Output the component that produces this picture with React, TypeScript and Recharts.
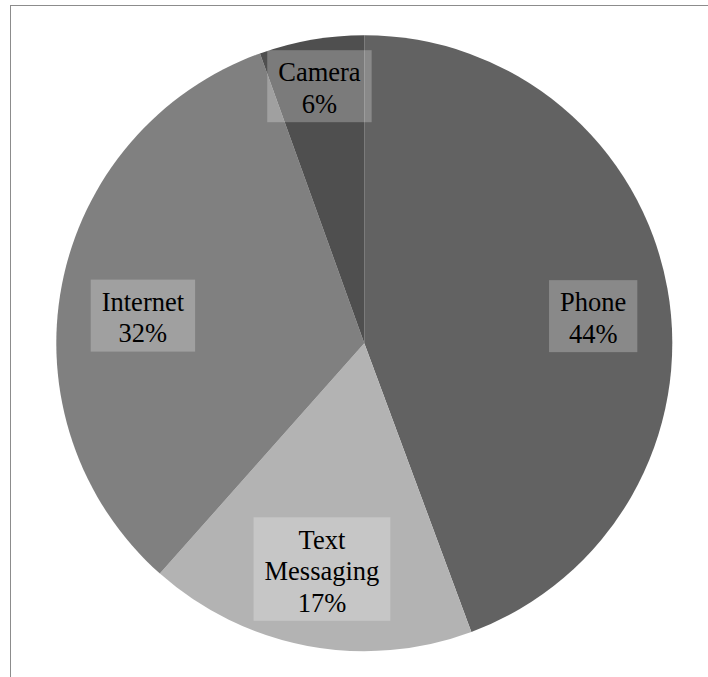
import React from "react";
import { PieChart, Pie, Cell } from "recharts";

// slice shares
const categories = ["Phone", "Text Messaging", "Internet", "Camera"];
const shares = [44.35, 17.2, 32.95, 5.5];
const percentLabels = ["44%", "17%", "32%", "6%"];

const sliceColors = ["#626262", "#b3b3b3", "#808080", "#4f4f4f"];

// where Excel put each label box (fraction of radius, vertical nudge)
const labelLayout: Record<string, { k: number; dy: number }> = {
  Phone: { k: 0.755, dy: 14 },
  "Text Messaging": { k: 0.746, dy: 0 },
  Internet: { k: 0.732, dy: 15 },
  Camera: { k: 0.847, dy: 0 },
};

const FONT = "'Liberation Serif', 'Times New Roman', serif";
const FONT_SIZE = 26.5;
const LINE_H = 31.5;

const data = categories.map((name, i) => ({
  name,
  value: shares[i],
  pct: percentLabels[i],
}));

let ctx: CanvasRenderingContext2D | null = null;
const measure = (s: string) => {
  if (!ctx) {
    ctx = document.createElement("canvas").getContext("2d");
  }
  if (!ctx) return s.length * FONT_SIZE * 0.5;
  ctx.font = `${FONT_SIZE}px ${FONT}`;
  return ctx.measureText(s).width;
};

const RADIAN = Math.PI / 180;

const renderLabel = (props: any) => {
  const { cx, cy, midAngle, outerRadius, name, payload } = props;
  const layout = labelLayout[name] || { k: 0.7, dy: 0 };
  const r = outerRadius * layout.k;
  const x = cx + r * Math.cos(-midAngle * RADIAN);
  const y = cy + r * Math.sin(-midAngle * RADIAN) + layout.dy;
  const lines = [...String(name).split(" "), payload.pct];
  const w = Math.max(...lines.map(measure)) + 22;
  const h = lines.length * LINE_H + 9;
  return (
    <g>
      <rect
        x={x - w / 2}
        y={y - h / 2}
        width={w}
        height={h}
        fill="#ffffff"
        fillOpacity={0.25}
      />
      {lines.map((t, i) => (
        <text
          key={i}
          x={x}
          y={y + (i - (lines.length - 1) / 2) * LINE_H + 11}
          textAnchor="middle"
          fontFamily={FONT}
          fontSize={FONT_SIZE}
          fill="#000000"
        >
          {t}
        </text>
      ))}
    </g>
  );
};

export default function App() {
  return (
    <div
      style={{
        position: "absolute",
        left: 0,
        top: 0,
        width: 708,
        height: 677,
        background: "#ffffff",
        overflow: "hidden",
      }}
    >
      <div
        style={{
          position: "absolute",
          left: 10,
          top: 5,
          width: 720,
          height: 700,
          borderLeft: "1.5px solid #8c8c8c",
          borderTop: "1.5px solid #8c8c8c",
        }}
      />
      <div style={{ position: "absolute", left: 0, top: 0 }}>
        <PieChart
          width={708}
          height={677}
          margin={{ top: 0, right: 0, bottom: 0, left: 0 }}
        >
          <Pie
            data={data}
            dataKey="value"
            nameKey="name"
            cx={364.3}
            cy={343.2}
            outerRadius={308}
            startAngle={90}
            endAngle={-270}
            stroke="none"
            label={renderLabel}
            labelLine={false}
            isAnimationActive={false}
          >
            {data.map((d, i) => (
              <Cell key={d.name} fill={sliceColors[i]} />
            ))}
          </Pie>
        </PieChart>
      </div>
    </div>
  );
}
